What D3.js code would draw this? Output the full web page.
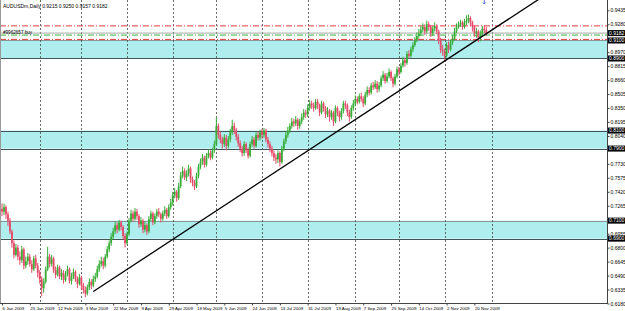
<!DOCTYPE html>
<html>
<head>
<meta charset="utf-8">
<script src="https://cdn.jsdelivr.net/npm/d3@7"></script>
<style>
  body { margin: 0; background: #fff; }
  svg { display: block; }
  text { font-family: "Liberation Sans", Arial, sans-serif; }
</style>
</head>
<body>
<script>
// AUDUSDm daily bars, Jan - Nov 2009 (open = previous close)
const firstOpen = 0.7230;
const closes = [
  0.7200, 0.7250, 0.7170, 0.7100, 0.6980, 0.6850, 0.6720, 0.6800, 0.6700, 0.6660,
  0.6780, 0.6600, 0.6650, 0.6700, 0.6620, 0.6560, 0.6680, 0.6600, 0.6520, 0.6450,
  0.6350, 0.6420, 0.6560, 0.6700, 0.6620, 0.6680, 0.6550, 0.6500, 0.6580, 0.6480,
  0.6520, 0.6440, 0.6500, 0.6560, 0.6430, 0.6480, 0.6530, 0.6450, 0.6400, 0.6470,
  0.6380, 0.6330, 0.6290, 0.6360, 0.6420, 0.6380, 0.6450, 0.6480, 0.6560, 0.6620,
  0.6650, 0.6600, 0.6700, 0.6780, 0.6850, 0.6920, 0.6980, 0.7050, 0.7000, 0.7080,
  0.7030, 0.6930, 0.6850, 0.6950, 0.7100, 0.7180, 0.7120, 0.7200, 0.7150, 0.7060,
  0.7100, 0.7000, 0.7050, 0.6980, 0.7120, 0.7180, 0.7080, 0.7150, 0.7200, 0.7170,
  0.7120, 0.7180, 0.7220, 0.7150, 0.7250, 0.7300, 0.7380, 0.7420, 0.7350, 0.7480,
  0.7600, 0.7650, 0.7580, 0.7620, 0.7680, 0.7560, 0.7520, 0.7480, 0.7600, 0.7700,
  0.7750, 0.7800, 0.7720, 0.7820, 0.7850, 0.7800, 0.7880, 0.7950, 0.8150, 0.8050,
  0.8000, 0.7950, 0.8020, 0.7930, 0.8000, 0.8080, 0.8150, 0.8100, 0.8030, 0.7960,
  0.7900, 0.7850, 0.7950, 0.7880, 0.7820, 0.7950, 0.8000, 0.7930, 0.8050, 0.8020,
  0.8080, 0.8050, 0.8100, 0.8000, 0.7950, 0.7900, 0.7850, 0.7800, 0.7780, 0.7850,
  0.7750, 0.7900, 0.7980, 0.8050, 0.8100, 0.8150, 0.8200, 0.8180, 0.8220, 0.8150,
  0.8200, 0.8250, 0.8300, 0.8280, 0.8350, 0.8400, 0.8380, 0.8350, 0.8420, 0.8380,
  0.8300, 0.8400, 0.8350, 0.8280, 0.8320, 0.8250, 0.8300, 0.8200, 0.8350, 0.8300,
  0.8250, 0.8320, 0.8400, 0.8380, 0.8300, 0.8250, 0.8350, 0.8400, 0.8450, 0.8420,
  0.8480, 0.8450, 0.8400, 0.8500, 0.8550, 0.8520, 0.8600, 0.8580, 0.8620, 0.8560,
  0.8600, 0.8680, 0.8720, 0.8650, 0.8700, 0.8750, 0.8680, 0.8620, 0.8700, 0.8780,
  0.8750, 0.8820, 0.8880, 0.8850, 0.8950, 0.8930, 0.9000, 0.9050, 0.9100, 0.9150,
  0.9180, 0.9220, 0.9250, 0.9200, 0.9280, 0.9250, 0.9180, 0.9230, 0.9260, 0.9200,
  0.9100, 0.9000, 0.8980, 0.8930, 0.9050, 0.9000, 0.9080, 0.9120, 0.9200, 0.9250,
  0.9280, 0.9300, 0.9250, 0.9300, 0.9320, 0.9350, 0.9300, 0.9250, 0.9180, 0.9200,
  0.9130, 0.9170, 0.9230, 0.9215, 0.9182
];
const highs = [
  0.7290, 0.7290, 0.7270, 0.7200, 0.7130, 0.7000, 0.6880, 0.6840, 0.6830, 0.6760,
  0.6820, 0.6800, 0.6700, 0.6740, 0.6730, 0.6660, 0.6710, 0.6720, 0.6630, 0.6550,
  0.6480, 0.6460, 0.6590, 0.6810, 0.6730, 0.6720, 0.6700, 0.6590, 0.6610, 0.6600,
  0.6560, 0.6550, 0.6540, 0.6600, 0.6580, 0.6520, 0.6570, 0.6550, 0.6480, 0.6510,
  0.6490, 0.6410, 0.6370, 0.6390, 0.6460, 0.6450, 0.6490, 0.6520, 0.6600, 0.6660,
  0.6700, 0.6690, 0.6730, 0.6820, 0.6880, 0.6960, 0.7020, 0.7090, 0.7080, 0.7110,
  0.7100, 0.7050, 0.6960, 0.6980, 0.7130, 0.7220, 0.7210, 0.7240, 0.7230, 0.7170,
  0.7140, 0.7120, 0.7090, 0.7070, 0.7150, 0.7210, 0.7200, 0.7180, 0.7230, 0.7240,
  0.7190, 0.7210, 0.7260, 0.7240, 0.7280, 0.7340, 0.7420, 0.7460, 0.7440, 0.7520,
  0.7640, 0.7700, 0.7680, 0.7660, 0.7720, 0.7700, 0.7590, 0.7550, 0.7630, 0.7730,
  0.7790, 0.7840, 0.7820, 0.7850, 0.7890, 0.7880, 0.7910, 0.7990, 0.8250, 0.8180,
  0.8090, 0.8030, 0.8060, 0.8050, 0.8040, 0.8120, 0.8220, 0.8190, 0.8130, 0.8060,
  0.7990, 0.7930, 0.7980, 0.7970, 0.7910, 0.7980, 0.8040, 0.8030, 0.8080, 0.8090,
  0.8110, 0.8120, 0.8130, 0.8120, 0.8030, 0.7980, 0.7930, 0.7880, 0.7840, 0.7880,
  0.7870, 0.7930, 0.8010, 0.8090, 0.8140, 0.8180, 0.8240, 0.8230, 0.8260, 0.8240,
  0.8230, 0.8290, 0.8340, 0.8330, 0.8390, 0.8440, 0.8430, 0.8410, 0.8450, 0.8450,
  0.8400, 0.8430, 0.8420, 0.8370, 0.8360, 0.8340, 0.8330, 0.8320, 0.8380, 0.8370,
  0.8320, 0.8350, 0.8430, 0.8430, 0.8400, 0.8330, 0.8380, 0.8440, 0.8490, 0.8480,
  0.8510, 0.8520, 0.8480, 0.8530, 0.8590, 0.8580, 0.8630, 0.8640, 0.8660, 0.8650,
  0.8640, 0.8710, 0.8760, 0.8740, 0.8740, 0.8790, 0.8770, 0.8700, 0.8730, 0.8810,
  0.8810, 0.8850, 0.8920, 0.8910, 0.8980, 0.8990, 0.9030, 0.9080, 0.9140, 0.9190,
  0.9230, 0.9260, 0.9290, 0.9280, 0.9320, 0.9310, 0.9270, 0.9260, 0.9300, 0.9280,
  0.9220, 0.9130, 0.9050, 0.9010, 0.9080, 0.9090, 0.9110, 0.9160, 0.9240, 0.9290,
  0.9310, 0.9330, 0.9320, 0.9340, 0.9380, 0.9390, 0.9370, 0.9320, 0.9270, 0.9240,
  0.9220, 0.9210, 0.9260, 0.9270, 0.9250
];
const lows = [
  0.7150, 0.7160, 0.7120, 0.7040, 0.6950, 0.6800, 0.6680, 0.6700, 0.6660, 0.6610,
  0.6630, 0.6560, 0.6570, 0.6610, 0.6590, 0.6520, 0.6540, 0.6570, 0.6470, 0.6400,
  0.6260, 0.6300, 0.6400, 0.6540, 0.6580, 0.6590, 0.6520, 0.6460, 0.6480, 0.6450,
  0.6440, 0.6400, 0.6420, 0.6480, 0.6400, 0.6390, 0.6450, 0.6420, 0.6350, 0.6380,
  0.6340, 0.6290, 0.6250, 0.6270, 0.6330, 0.6340, 0.6360, 0.6420, 0.6460, 0.6530,
  0.6590, 0.6560, 0.6580, 0.6680, 0.6750, 0.6820, 0.6890, 0.6950, 0.6960, 0.6980,
  0.6990, 0.6890, 0.6800, 0.6830, 0.6930, 0.7080, 0.7090, 0.7100, 0.7110, 0.7020,
  0.7030, 0.6960, 0.6970, 0.6940, 0.6960, 0.7090, 0.7050, 0.7060, 0.7120, 0.7140,
  0.7080, 0.7100, 0.7150, 0.7120, 0.7130, 0.7220, 0.7270, 0.7350, 0.7310, 0.7330,
  0.7460, 0.7570, 0.7550, 0.7540, 0.7590, 0.7520, 0.7480, 0.7440, 0.7460, 0.7570,
  0.7670, 0.7720, 0.7690, 0.7700, 0.7790, 0.7770, 0.7780, 0.7850, 0.7930, 0.8010,
  0.7960, 0.7900, 0.7920, 0.7880, 0.7900, 0.7970, 0.8050, 0.8060, 0.7990, 0.7920,
  0.7860, 0.7810, 0.7820, 0.7850, 0.7790, 0.7800, 0.7920, 0.7900, 0.7910, 0.7990,
  0.7990, 0.8010, 0.8020, 0.7970, 0.7910, 0.7860, 0.7810, 0.7760, 0.7730, 0.7740,
  0.7700, 0.7730, 0.7870, 0.7950, 0.8020, 0.8070, 0.8120, 0.8140, 0.8150, 0.8110,
  0.8120, 0.8170, 0.8220, 0.8240, 0.8250, 0.8320, 0.8340, 0.8310, 0.8330, 0.8340,
  0.8260, 0.8280, 0.8310, 0.8240, 0.8250, 0.8200, 0.8220, 0.8150, 0.8180, 0.8260,
  0.8200, 0.8220, 0.8290, 0.8340, 0.8260, 0.8200, 0.8230, 0.8320, 0.8370, 0.8390,
  0.8400, 0.8420, 0.8360, 0.8380, 0.8470, 0.8490, 0.8500, 0.8550, 0.8560, 0.8520,
  0.8530, 0.8580, 0.8650, 0.8620, 0.8630, 0.8680, 0.8650, 0.8580, 0.8600, 0.8680,
  0.8710, 0.8730, 0.8800, 0.8810, 0.8830, 0.8900, 0.8910, 0.8970, 0.9030, 0.9080,
  0.9120, 0.9150, 0.9190, 0.9160, 0.9180, 0.9210, 0.9140, 0.9150, 0.9200, 0.9170,
  0.9060, 0.8960, 0.8930, 0.8870, 0.8910, 0.8960, 0.8980, 0.9050, 0.9100, 0.9180,
  0.9230, 0.9250, 0.9220, 0.9230, 0.9270, 0.9290, 0.9260, 0.9200, 0.9140, 0.9130,
  0.9080, 0.9090, 0.9150, 0.9180, 0.9157
];

const dateLabels = ["6 Jan 2009", "25 Jan 2009", "12 Feb 2009", "3 Mar 2009", "22 Mar 2009",
  "9 Apr 2009", "29 Apr 2009", "18 May 2009", "5 Jun 2009", "24 Jun 2009", "13 Jul 2009",
  "31 Jul 2009", "19 Aug 2009", "7 Sep 2009", "25 Sep 2009", "14 Oct 2009", "2 Nov 2009", "20 Nov 2009"];
const dateLabelBars = [0, 14, 28, 42, 56, 70, 84, 98, 112, 126, 140, 154, 168, 182, 196, 210, 224, 238];
const monthStartBars = [19, 40, 63, 86, 108, 131, 154, 178, 200, 223, 247];

const priceTicks = [0.9435, 0.9280, 0.8970, 0.8815, 0.8660, 0.8505, 0.8350, 0.8195, 0.8040,
  0.7730, 0.7575, 0.7420, 0.7265, 0.6955, 0.6800, 0.6645, 0.6490, 0.6335, 0.6180];

// support/resistance zones (bottom, top)
const zones = [[0.8900, 0.9100], [0.7900, 0.8100], [0.6900, 0.7100]];
const levelBoxes = [0.9182, 0.9100, 0.8900, 0.8100, 0.7900, 0.7100, 0.6900];

const bidPrice = 0.9182;
const orderOpen = 0.9160;
const takeProfit = 0.9262;
const stopLoss = 0.9112;

// trend line anchors: [bar index, price]
const trendA = [46, 0.6313];
const trendB = [217, 0.8785];

const W = 625, H = 311;
const plotR = 607, plotB = 303.5;

const x = d3.scaleLinear().domain([0, 244]).range([2, 486.3]);
const y = d3.scaleLinear().domain([0.618, 0.9435]).range([303.5, 10.3]);

const svg = d3.select('body').append('svg')
  .attr('width', W).attr('height', H)
  .style('background', '#fff');

svg.append('clipPath').attr('id', 'plot')
  .append('rect').attr('x', 0).attr('y', 0).attr('width', plotR).attr('height', plotB);

const g = svg.append('g').attr('clip-path', 'url(#plot)');

// zones
zones.forEach(([lo, hi]) => {
  g.append('rect')
    .attr('x', 0).attr('width', plotR)
    .attr('y', y(hi)).attr('height', y(lo) - y(hi))
    .attr('fill', '#aeeeee');
});
levelBoxes.slice(1).forEach((p, k) => {
  g.append('line')
    .attr('x1', 0).attr('x2', plotR)
    .attr('y1', Math.round(y(p)) + 0.5).attr('y2', Math.round(y(p)) + 0.5)
    .attr('stroke', (k === 0 || k === 4) ? '#8a9494' : '#3e5656').attr('stroke-width', 1);
});

// monthly grid
g.selectAll('.vgrid').data(monthStartBars).join('line')
  .attr('class', 'vgrid')
  .attr('x1', d => Math.round(x(d)) + 0.5).attr('x2', d => Math.round(x(d)) + 0.5)
  .attr('y1', 0).attr('y2', plotB)
  .attr('stroke', '#444').attr('stroke-width', 0.8)
  .attr('stroke-dasharray', '2,2');

// order lines
const hline = (p, color, dash) => g.append('line')
  .attr('x1', 0).attr('x2', plotR)
  .attr('y1', y(p)).attr('y2', y(p))
  .attr('stroke', color).attr('stroke-width', 1)
  .attr('stroke-dasharray', dash);
hline(takeProfit, '#e03c3c', '6,2,1,2');
hline(stopLoss, '#e03c3c', '6,2,1,2');
hline(orderOpen, '#3cb43c', '6,2,1,2');
hline(bidPrice, '#a8a8a8', null);

// candles
const bars = closes.map((c, i) => ({
  i, o: i ? closes[i - 1] : firstOpen, h: highs[i], l: lows[i], c
}));
const up = '#38ad38', down = '#e54a68';
g.selectAll('.wick').data(bars).join('line')
  .attr('class', 'wick')
  .attr('x1', d => x(d.i)).attr('x2', d => x(d.i))
  .attr('y1', d => y(d.h)).attr('y2', d => y(d.l))
  .attr('stroke', d => d.c >= d.o ? up : down).attr('stroke-width', 1);
g.selectAll('.body').data(bars).join('rect')
  .attr('class', 'body')
  .attr('x', d => x(d.i) - 0.9).attr('width', 1.8)
  .attr('y', d => y(Math.max(d.o, d.c)))
  .attr('height', d => Math.max(0.8, Math.abs(y(d.o) - y(d.c))))
  .attr('fill', d => d.c >= d.o ? up : down);

// trend line (ray to the right)
const slope = (trendB[1] - trendA[1]) / (trendB[0] - trendA[0]);
const endBar = x.invert(plotR);
g.append('line')
  .attr('x1', x(trendA[0])).attr('y1', y(trendA[1]))
  .attr('x2', x(endBar)).attr('y2', y(trendA[1] + slope * (endBar - trendA[0])))
  .attr('stroke', '#000').attr('stroke-width', 1.3);

// order arrow marker at top
g.append('path')
  .attr('d', `M${x(243)},0 l0,4 M${x(243) - 1.5},2.5 l1.5,1.5 l1.5,-1.5`)
  .attr('stroke', '#3050d0').attr('stroke-width', 0.8).attr('fill', 'none');

// texts inside chart
svg.append('text').attr('x', 3).attr('y', 8)
  .attr('font-size', 5).attr('fill', '#000')
  .text('AUDUSDm,Daily  0.9215 0.9250 0.9157 0.9182');
svg.append('text').attr('x', 3).attr('y', y(orderOpen) - 1.5)
  .attr('font-size', 4.6).attr('fill', '#000')
  .text('#9962657 buy');

// frame
svg.append('line').attr('x1', 0.5).attr('x2', 0.5).attr('y1', 0).attr('y2', plotB)
  .attr('stroke', '#999');
svg.append('line').attr('x1', plotR + 0.5).attr('x2', plotR + 0.5).attr('y1', 0).attr('y2', plotB)
  .attr('stroke', '#444');
svg.append('line').attr('x1', 0).attr('x2', plotR + 1).attr('y1', plotB).attr('y2', plotB)
  .attr('stroke', '#444');

// price axis
const yAxis = d3.axisRight(y).tickValues(priceTicks).tickSize(2).tickPadding(1)
  .tickFormat(d3.format('.4f'));
const ya = svg.append('g').attr('transform', `translate(${plotR + 0.5},0)`).call(yAxis);
ya.select('.domain').remove();
ya.selectAll('text').attr('font-size', 5).attr('font-family', '"Liberation Sans", Arial, sans-serif').attr('fill', '#000');
ya.selectAll('line').attr('stroke', '#444');

// price boxes of horizontal lines
const boxes = svg.append('g');
levelBoxes.forEach(p => {
  boxes.append('rect').attr('x', plotR + 1).attr('y', y(p) - 3)
    .attr('width', 17).attr('height', 6).attr('fill', '#000');
  boxes.append('text').attr('x', plotR + 2).attr('y', y(p) + 1.8)
    .attr('font-size', 5).attr('fill', '#fff')
    .text(d3.format('.4f')(p));
});

// time axis
const xAxis = d3.axisBottom(x).tickValues(dateLabelBars).tickSize(2).tickPadding(1)
  .tickFormat((d, i) => dateLabels[i]);
const xa = svg.append('g').attr('transform', `translate(0,${plotB})`).call(xAxis);
xa.select('.domain').remove();
xa.selectAll('text').attr('font-size', 4.4).attr('text-anchor', 'start')
  .attr('font-family', '"Liberation Sans", Arial, sans-serif').attr('fill', '#000');
xa.selectAll('line').attr('stroke', '#444');
</script>
</body>
</html>
